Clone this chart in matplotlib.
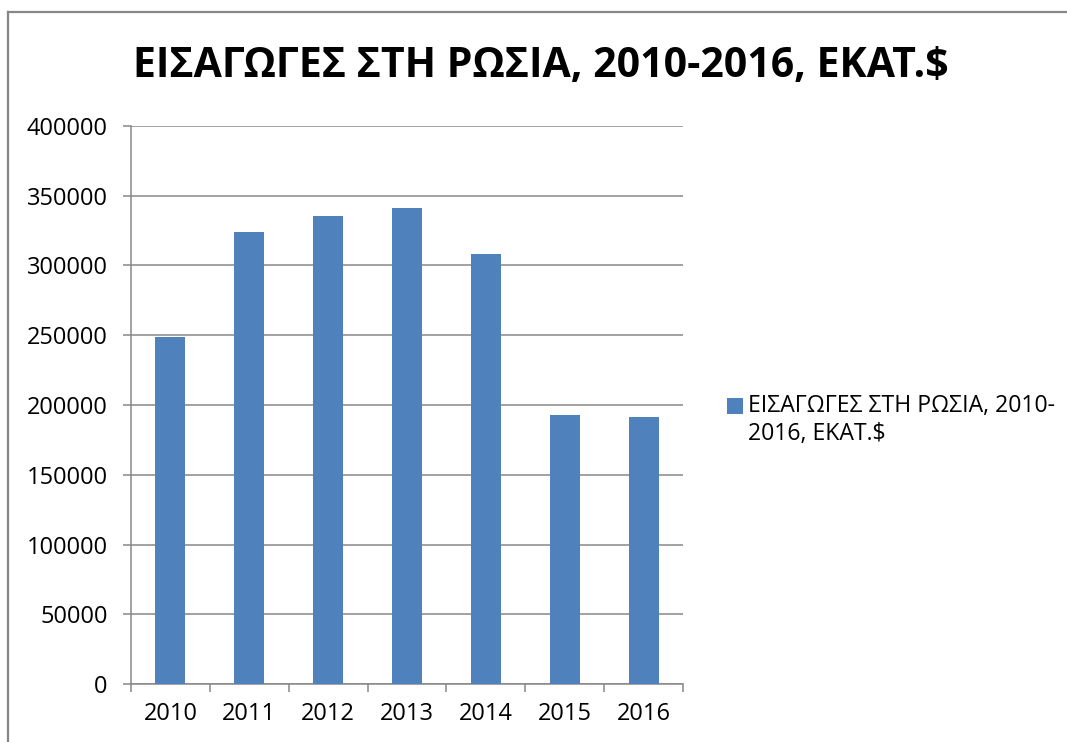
import matplotlib.pyplot as plt
from matplotlib.lines import Line2D
import numpy as np

years = ['2010', '2011', '2012', '2013', '2014', '2015', '2016']
imports = [248700, 323800, 335800, 341300, 308000, 193000, 191600]
title = 'ΕΙΣΑΓΩΓΕΣ ΣΤΗ ΡΩΣΙΑ, 2010-2016, ΕΚΑΤ.$'
legend_label = 'ΕΙΣΑΓΩΓΕΣ ΣΤΗ ΡΩΣΙΑ, 2010-\n2016, ΕΚΑΤ.$'

plt.rcParams['font.family'] = ['Open Sans', 'DejaVu Sans']
W, H = 1067, 742
fig = plt.figure(figsize=(W / 100, H / 100), dpi=100)

# outer frame (only left and top visible in the crop)
grey = '#878787'
fig.add_artist(Line2D([8 / W, 8 / W], [0, 1 - 12 / H], color=grey, lw=1.6))
fig.add_artist(Line2D([8 / W, 1], [1 - 12 / H, 1 - 12 / H], color=grey, lw=1.6))

ax = fig.add_axes([131 / W, 1 - 684 / H, (683 - 131) / W, (684 - 126) / H])
x = np.arange(len(years))
ax.bar(x, imports, width=0.38, color='#4f81bd', zorder=3, label=legend_label)
ax.set_xlim(-0.5, len(years) - 0.5)
ax.set_ylim(0, 400000)
ax.set_yticks(np.arange(0, 400001, 50000))
ax.set_yticklabels([str(v) for v in range(0, 400001, 50000)], fontsize=17)
ax.yaxis.grid(True, color=grey, lw=1.1, zorder=0)
for s in ['top', 'right']:
    ax.spines[s].set_visible(False)
for s in ['left', 'bottom']:
    ax.spines[s].set_color(grey)
    ax.spines[s].set_linewidth(1.1)
ax.tick_params(axis='y', length=5.8, width=1.1, color=grey, pad=11)
ax.set_xticks(x)
ax.set_xticklabels(years, fontsize=17)
ax.tick_params(axis='x', length=0, pad=13)
ax.set_xticks(np.arange(-0.5, len(years)), minor=True)
ax.tick_params(axis='x', which='minor', length=5.8, width=1.1, color=grey)

fig.text(541 / W, 1 - 77 / H, title, ha='center', va='baseline',
         fontsize=29.5, fontweight='bold')

leg = ax.legend(loc='upper left', bbox_to_anchor=(727 / W, 1 - 394 / H),
                bbox_transform=fig.transFigure, frameon=False, fontsize=16.6,
                handlelength=0.7, handleheight=0.7, handletextpad=0.22,
                borderaxespad=0, borderpad=0)
# square sits next to the first line, as in the original
sq = leg.legend_handles[0]
sq.set_y(sq.get_y() + 10.5)

fig.savefig('out.png', dpi=100)
